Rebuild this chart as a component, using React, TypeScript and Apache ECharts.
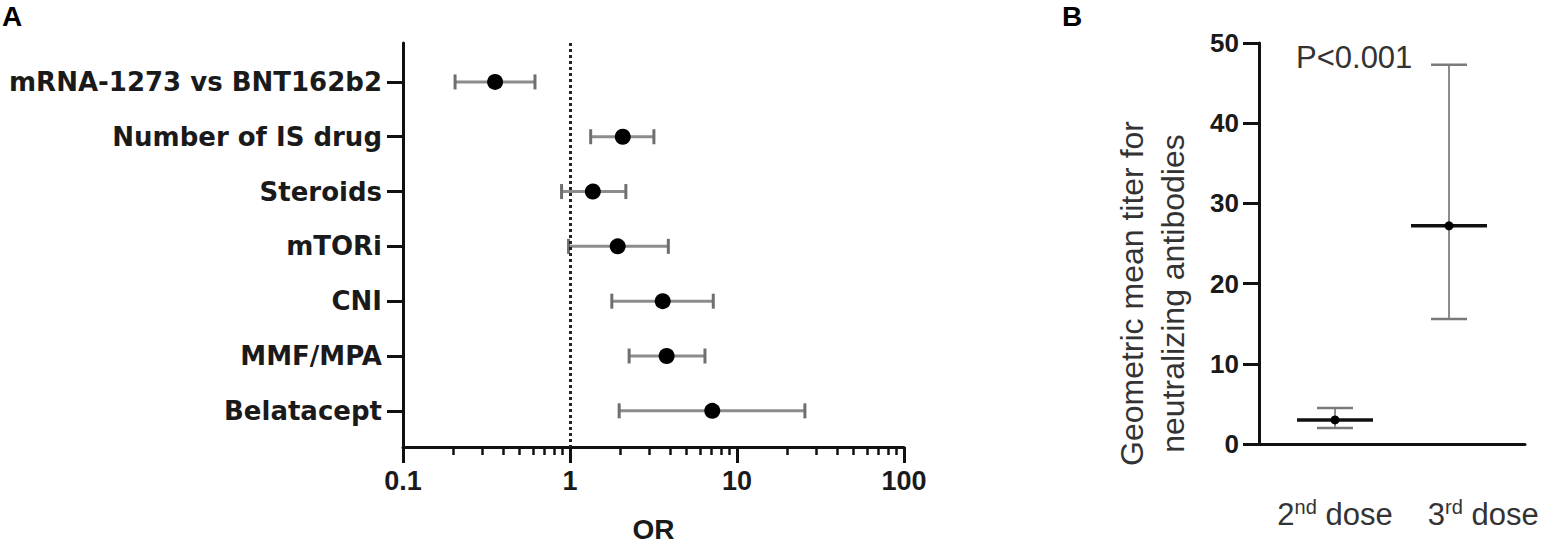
import React, { useEffect, useRef } from 'react';
import * as echarts from 'echarts';

// ---- Panel A data (odds ratios with 95% CI) ----
const categories = [
  'mRNA-1273 vs BNT162b2',
  'Number of IS drug',
  'Steroids',
  'mTORi',
  'CNI',
  'MMF/MPA',
  'Belatacept',
];
const orValues = [0.356, 2.07, 1.37, 1.93, 3.59, 3.79, 7.11];
const ciLower = [0.205, 1.33, 0.89, 0.98, 1.78, 2.26, 1.97];
const ciUpper = [0.617, 3.18, 2.16, 3.88, 7.21, 6.43, 25.5];
const orTickLabels = ['0.1', '1', '10', '100'];
const orMinorTicks = [
  0.2, 0.3, 0.4, 0.5, 0.6, 0.7, 0.8, 0.9,
  2, 3, 4, 5, 6, 7, 8, 9,
  20, 30, 40, 50, 60, 70, 80, 90,
];

// ---- Panel B data (geometric mean titer with CI) ----
const doseNumbers = ['2', '3'];
const doseSuffixes = ['nd', 'rd'];
const gmtMean = [3.0, 27.2];
const gmtLower = [2.0, 15.6];
const gmtUpper = [4.5, 47.3];

const SANS = '"Liberation Sans", Arial, Helvetica, sans-serif';
const TEXT = '#1a1a1a';

export default function App() {
  const ref = useRef<HTMLDivElement>(null);

  useEffect(() => {
    if (!ref.current) return;
    const chart = echarts.init(ref.current, undefined, { renderer: 'svg' });

    const rows = categories.map((_, i) => i + 1);

    const gridA = { left: 403, top: 43, width: 501, height: 404 };
    const gridB = { left: 1259, top: 43, width: 266, height: 401 };

    const option: any = {
      animation: false,
      backgroundColor: '#ffffff',
      title: [
        { text: 'A', left: 2, top: 2, padding: 0, textStyle: { fontFamily: SANS, fontWeight: 'bold', fontSize: 28, color: '#000' } },
        { text: 'B', left: 1062, top: 2, padding: 0, textStyle: { fontFamily: SANS, fontWeight: 'bold', fontSize: 28, color: '#000' } },
        { text: 'P<0.001', left: 1296, top: 42, padding: 0, textStyle: { fontFamily: SANS, fontWeight: 'normal', fontSize: 31, color: '#333' } },
      ],
      grid: [
        { ...gridA, containLabel: false },
        { ...gridB, containLabel: false },
        { ...gridA, containLabel: false },
      ],
      xAxis: [
        {
          gridIndex: 0,
          type: 'value',
          min: -1,
          max: 2,
          interval: 1,
          axisLine: { show: true, onZero: false, lineStyle: { color: '#111', width: 3 } },
          axisTick: { show: true, length: 16, lineStyle: { color: '#111', width: 3 } },
          axisLabel: {
            margin: 20,
            fontFamily: SANS,
            fontWeight: 'bold',
            fontSize: 27,
            color: TEXT,
            formatter: (v: number) => orTickLabels[Math.round(v) + 1],
          },
          splitLine: { show: false },
          name: 'OR',
          nameLocation: 'middle',
          nameGap: 68,
          nameTextStyle: { fontFamily: SANS, fontWeight: 'bold', fontSize: 28, color: TEXT },
        },
        {
          gridIndex: 1,
          type: 'value',
          min: 1 / 3,
          max: 8 / 3,
          axisLine: { show: true, onZero: false, lineStyle: { color: '#111', width: 3 } },
          axisTick: { show: false },
          splitLine: { show: false },
          axisLabel: {
            customValues: [1, 2.3],
            margin: 53,
            formatter: (v: number) => {
              const i = v < 1.5 ? 0 : 1;
              return `{n|${doseNumbers[i]}}{s|${doseSuffixes[i]}}{n| dose}`;
            },
            rich: {
              n: { fontFamily: SANS, fontSize: 31, color: '#333', lineHeight: 35 },
              s: { fontFamily: SANS, fontSize: 20, color: '#333', lineHeight: 22, verticalAlign: 'top' },
            },
          },
        },
        {
          gridIndex: 2,
          type: 'value',
          min: -1,
          max: 2,
          axisLine: { show: false, onZero: false },
          axisTick: {
            show: true,
            length: 8,
            customValues: orMinorTicks.map((t) => Math.log10(t)),
            lineStyle: { color: '#111', width: 2.5 },
          },
          axisLabel: { show: false },
          splitLine: { show: false },
        },
      ],
      yAxis: [
        {
          gridIndex: 0,
          type: 'value',
          inverse: true,
          min: 0.29,
          max: 7.66,
          axisLine: { show: true, onZero: false, lineStyle: { color: '#111', width: 3 } },
          axisTick: { show: true, length: 16, customValues: rows, lineStyle: { color: '#111', width: 3 } },
          axisLabel: {
            customValues: rows,
            margin: 21,
            fontFamily: '"DejaVu Sans", sans-serif',
            fontWeight: 'bold',
            fontSize: 26,
            color: TEXT,
            formatter: (v: number) => categories[Math.round(v) - 1],
          },
          splitLine: { show: false },
        },
        {
          gridIndex: 1,
          type: 'value',
          min: 0,
          max: 50,
          interval: 10,
          axisLine: { show: true, onZero: false, lineStyle: { color: '#111', width: 3 } },
          axisTick: { show: true, length: 16, lineStyle: { color: '#111', width: 3 } },
          axisLabel: { margin: 20, fontFamily: SANS, fontWeight: 'bold', fontSize: 26, color: TEXT },
          splitLine: { show: false },
          name: 'Geometric mean titer for\nneutralizing antibodies',
          nameLocation: 'middle',
          nameRotate: 90,
          nameGap: 66,
          nameTextStyle: {
            fontFamily: SANS,
            fontSize: 32,
            lineHeight: 41,
            color: '#333',
            padding: [0, 100, 0, 0],
          },
        },
        {
          gridIndex: 2,
          type: 'value',
          show: false,
          min: 0,
          max: 1,
        },
      ],
      series: [
        {
          type: 'custom',
          xAxisIndex: 0,
          yAxisIndex: 0,
          encode: { x: [0, 1], y: 2 },
          data: categories.map((_, i) => [Math.log10(ciLower[i]), Math.log10(ciUpper[i]), i + 1]),
          renderItem: (params: any, api: any) => {
            const lo = api.coord([api.value(0), api.value(2)]);
            const hi = api.coord([api.value(1), api.value(2)]);
            const h = 7.5;
            return {
              type: 'group',
              children: [
                { type: 'line', shape: { x1: lo[0], y1: lo[1], x2: hi[0], y2: hi[1] }, style: { stroke: '#8c8c8c', lineWidth: 3 } },
                { type: 'line', shape: { x1: lo[0], y1: lo[1] - h, x2: lo[0], y2: lo[1] + h }, style: { stroke: '#6f6f6f', lineWidth: 3 } },
                { type: 'line', shape: { x1: hi[0], y1: hi[1] - h, x2: hi[0], y2: hi[1] + h }, style: { stroke: '#6f6f6f', lineWidth: 3 } },
              ],
            };
          },
          z: 2,
        },
        {
          type: 'scatter',
          xAxisIndex: 0,
          yAxisIndex: 0,
          symbol: 'circle',
          symbolSize: 16,
          itemStyle: { color: '#000', opacity: 1 },
          data: orValues.map((v, i) => [Math.log10(v), i + 1]),
          markLine: {
            silent: true,
            symbol: 'none',
            label: { show: false },
            lineStyle: { type: 'dotted', width: 3, color: '#222' },
            data: [{ xAxis: 0 }],
          },
          z: 3,
        },
        {
          type: 'custom',
          xAxisIndex: 1,
          yAxisIndex: 1,
          encode: { x: 0, y: [1, 2, 3] },
          data: gmtMean.map((m, i) => [i + 1, gmtLower[i], gmtUpper[i], m]),
          renderItem: (params: any, api: any) => {
            const x = api.value(0);
            const lo = api.coord([x, api.value(1)]);
            const hi = api.coord([x, api.value(2)]);
            const m = api.coord([x, api.value(3)]);
            const cap = 18;
            const mean = 38;
            return {
              type: 'group',
              children: [
                { type: 'line', shape: { x1: lo[0], y1: lo[1], x2: hi[0], y2: hi[1] }, style: { stroke: '#8c8c8c', lineWidth: 2 } },
                { type: 'line', shape: { x1: lo[0] - cap, y1: lo[1], x2: lo[0] + cap, y2: lo[1] }, style: { stroke: '#7a7a7a', lineWidth: 2.5 } },
                { type: 'line', shape: { x1: hi[0] - cap, y1: hi[1], x2: hi[0] + cap, y2: hi[1] }, style: { stroke: '#7a7a7a', lineWidth: 2.5 } },
                { type: 'line', shape: { x1: m[0] - mean, y1: m[1], x2: m[0] + mean, y2: m[1] }, style: { stroke: '#111', lineWidth: 3.5 } },
                { type: 'circle', shape: { cx: m[0], cy: m[1], r: 4.5 }, style: { fill: '#000' } },
              ],
            };
          },
        },
      ],
    };

    chart.setOption(option);
    return () => chart.dispose();
  }, []);

  return (
    <div
      ref={ref}
      style={{ position: 'absolute', left: 0, top: 0, width: 1544, height: 552, background: '#fff' }}
    />
  );
}
